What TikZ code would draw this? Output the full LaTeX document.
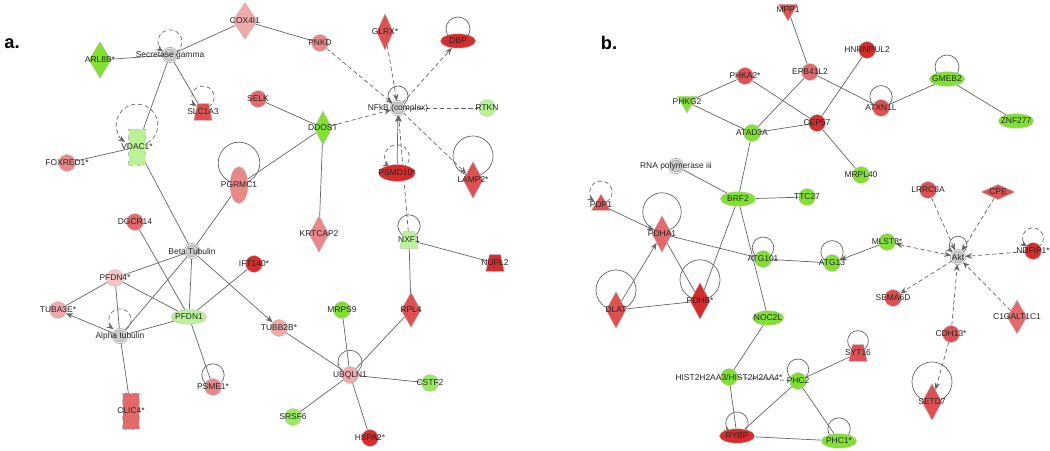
\documentclass[tikz,border=0pt]{standalone}
\usepackage{fontspec}
\setmainfont{Liberation Sans}
\usepackage{tikz}
\usetikzlibrary{shapes.geometric,arrows.meta,backgrounds}

\definecolor{upred}{RGB}{214,44,44}
\definecolor{midred}{RGB}{224,80,80}
\definecolor{pinkred}{RGB}{228,106,106}
\definecolor{pink}{RGB}{234,136,136}
\definecolor{lightpink}{RGB}{240,168,168}
\definecolor{palepink}{RGB}{246,198,198}
\definecolor{upgreen}{RGB}{128,226,44}
\definecolor{midgreen}{RGB}{150,236,90}
\definecolor{lightgreen}{RGB}{184,244,150}

\begin{document}
\begin{tikzpicture}[x=0.025cm, y=-0.025cm,
  every label/.style={font=\fontsize{6}{7}\selectfont, inner sep=0pt, text=black!85},
  gene/.style={draw=black!25, line width=0.3pt, inner sep=0pt},
  dot/.style={gene, circle, minimum size=0.42cm},
  oval/.style={gene, ellipse, minimum width=0.88cm, minimum height=0.36cm},
  kite/.style={gene, diamond, minimum width=0.5cm, minimum height=0.92cm},
  flatkite/.style={gene, diamond, minimum width=0.84cm, minimum height=0.38cm},
  box/.style={gene, rectangle, dashed, minimum width=0.42cm, minimum height=0.9cm},
  trap/.style={gene, trapezium, inner sep=1pt, trapezium stretches=true, trapezium left angle=72, trapezium right angle=72, minimum width=0.46cm, minimum height=0.42cm},
  tri/.style={gene, regular polygon, regular polygon sides=3, minimum size=0.55cm},
  vtri/.style={tri, shape border rotate=180},
  cplx/.style={circle, draw=black!40, fill=black!20, double=black!8, double distance=0.8pt, minimum size=0.34cm, inner sep=0pt},
  edge/.style={draw=black!60, line width=0.5pt},
  dedge/.style={edge, dash pattern=on 3pt off 2pt},
  >={Stealth[length=5pt,width=4pt]}]

 \useasboundingbox (0,0) rectangle (1050,451);

    % panel letters
    \node[font=\fontsize{13}{15}\selectfont\bfseries] (lbla) at (12,44) {a.};
    \node[font=\fontsize{13}{15}\selectfont\bfseries] (lblb) at (609,43) {b.};

    % panel a: molecules
    \node[cplx, label=center:Secretase gamma] (secg) at (170,55) {};
    \node[kite, fill=upgreen, minimum width=0.55cm, label=center:ARL8B*] (arl8b) at (100,60) {};
    \node[kite, fill=lightpink, minimum width=0.62cm, label=center:COX4I1] (cox4i1) at (245,21) {};
    \node[trap, fill=midred, label=center:SLC1A3] (slc1a3) at (203,112) {};
    \node[box, fill=lightgreen, label=center:VDAC1*] (vdac1) at (137,147) {};
    \node[dot, fill=pink, label=center:FOXRED1*] (foxred1) at (67,163) {};
    \node[oval, fill=pink, minimum width=0.45cm, minimum height=0.92cm, label=center:PGRMC1] (pgrmc1) at (239,185) {};
    \node[dot, fill=pinkred, label=center:SELK] (selk) at (258,99) {};
    \node[dot, fill=pinkred, label=center:DGCR14] (dgcr14) at (135,222) {};
    \node[dot, fill=pink, label=center:PNKD] (pnkd) at (320,43) {};
    \node[kite, fill=midred, minimum width=0.42cm, label=center:GLRX*] (glrx) at (385,32) {};
    \node[oval, fill=upred, label=center:DBP] (dbp) at (458,41) {};
    \node[cplx, label=center:NFkB (complex)] (nfkb) at (398,108) {};
    \node[dot, fill=lightgreen, label=center:RTKN] (rtkn) at (487,108) {};
    \node[kite, fill=upgreen, minimum width=0.45cm, minimum height=0.85cm, label=center:DDOST] (ddost) at (323,128) {};
    \node[oval, fill=upred, minimum width=0.92cm, minimum height=0.42cm, label=center:PSMD10*] (psmd10) at (397,173) {};
    \node[kite, fill=midred, label=center:LAMP2*] (lamp2) at (473,180) {};
    \node[kite, fill=pink, label=center:KRTCAP2] (krtcap2) at (319,234) {};
    \node[trap, fill=lightgreen, label=center:NXF1] (nxf1) at (409,240) {};
    \node[trap, fill=upred, label=center:NUPL2] (nupl2) at (495,263) {};
    \node[kite, fill=midred, minimum height=0.88cm, label=center:RPL4] (rpl4) at (411,310) {};
    \node[dot, fill=upgreen, label=center:MRPS9] (mrps9) at (342,310) {};
    \node[dot, fill=lightpink, label=center:TUBB2B*] (tubb2b) at (279,328) {};
    \node[dot, fill=lightpink, label=center:UBQLN1] (ubqln1) at (350,375) {};
    \node[dot, fill=midgreen, label=center:CSTF2] (cstf2) at (430,383) {};
    \node[dot, fill=midgreen, label=center:SRSF6] (srsf6) at (293,417) {};
    \node[dot, fill=upred, label=center:HSPA2*] (hspa2) at (370,438) {};
    \node[dot, fill=upred, label=center:IFT140*] (ift140) at (254,264) {};
    \node[cplx, label=center:Beta Tubulin] (btub) at (192,251) {};
    \node[dot, fill=palepink, label=center:PFDN4*] (pfdn4) at (115,278) {};
    \node[dot, fill=lightpink, label=center:TUBA3E*] (tuba3e) at (58,310) {};
    \node[oval, fill=lightgreen, label=center:PFDN1] (pfdn1) at (189,317) {};
    \node[cplx, label=center:Alpha tubulin] (atub) at (120,336) {};
    \node[dot, fill=pink, label=center:PSME1*] (psme1) at (213,387) {};
    \node[box, fill=pinkred, label=center:CLIC4*] (clic4) at (131,411) {};

    % panel b: molecules
    \node[vtri, fill=midred, label=center:MPP1] (mpp1) at (788,10) {};
    \node[dot, fill=midred, label=center:PHKA2*] (phka2) at (745,76) {};
    \node[dot, fill=pinkred, label=center:EPB41L2] (epb41l2) at (810,72) {};
    \node[dot, fill=upred, label=center:HNRNPUL2] (hnrnpul2) at (867,50) {};
    \node[oval, fill=upgreen, label=center:GMEB2] (gmeb2) at (947,79) {};
    \node[dot, fill=midred, label=center:ATXN1L] (atxn1l) at (881,108) {};
    \node[oval, fill=upgreen, label=center:ZNF277] (znf277) at (1016,121) {};
    \node[dot, fill=upred, label=center:CEP57] (cep57) at (817,123) {};
    \node[dot, fill=upgreen, label=center:MRPL40] (mrpl40) at (861,175) {};
    \node[vtri, fill=upgreen, label=center:PHKG2] (phkg2) at (687,102) {};
    \node[dot, fill=upgreen, label=center:ATAD3A] (atad3a) at (752,133) {};
    \node[cplx, label=center:RNA polymerase iii] (rnapol) at (676,166) {};
    \node[oval, fill=upgreen, label=center:BRF2] (brf2) at (738,199) {};
    \node[dot, fill=upgreen, label=center:TTC27] (ttc27) at (807,197) {};
    \node[tri, fill=midred, label=center:PDP1] (pdp1) at (601,205) {};
    \node[kite, fill=pinkred, label=center:PDHA1] (pdha1) at (662,234) {};
    \node[kite, fill=upred, label=center:PDHB*] (pdhb) at (700,301) {};
    \node[kite, fill=midred, label=center:DLAT] (dlat) at (616,310) {};
    \node[dot, fill=upgreen, label=center:ATG101] (atg101) at (763,259) {};
    \node[dot, fill=upgreen, label=center:ATG13] (atg13) at (832,263) {};
    \node[dot, fill=upgreen, label=center:MLST8*] (mlst8) at (887,242) {};
    \node[cplx, label=center:Akt] (akt) at (958,257) {};
    \node[dot, fill=upred, label=center:NDFIP1*] (ndfip1) at (1033,251) {};
    \node[dot, fill=midred, label=center:LRRC8A] (lrrc8a) at (928,190) {};
    \node[flatkite, fill=midred, label=center:CPE] (cpe) at (998,192) {};
    \node[dot, fill=midred, label=center:SEMA6D] (sema6d) at (893,298) {};
    \node[kite, fill=pinkred, minimum height=0.85cm, label=center:C1GALT1C1] (c1galt1c1) at (1017,317) {};
    \node[dot, fill=midred, label=center:CDH13*] (cdh13) at (951,334) {};
    \node[kite, fill=midred, label=center:SETD7] (setd7) at (932,402) {};
    \node[trap, fill=midred, label=center:SYT16] (syt16) at (858,353) {};
    \node[dot, fill=upgreen, label=center:PHC2] (phc2) at (798,381) {};
    \node[oval, fill=upgreen, label=center:PHC1*] (phc1) at (839,441) {};
    \node[oval, fill=upgreen, minimum width=0.78cm, label=center:NOC2L] (noc2l) at (768,318) {};
    \node[dot, fill=upgreen, label=center:HIST2H2AA3/HIST2H2AA4*] (hist) at (729,377) {};
    \node[oval, fill=upred, label=center:RYBP] (rybp) at (737,436) {};

  \begin{scope}[on background layer]
    % panel a: links
    \draw[edge] (arl8b) -- (secg);
    \draw[edge] (secg) -- (cox4i1);
    \draw[edge] (secg) -- (slc1a3);
    \draw[edge] (secg) -- (vdac1);
    \draw[edge] (foxred1) -- (vdac1);
    \draw[edge] (vdac1) -- (btub);
    \draw[edge] (cox4i1) -- (pnkd);
    \draw[dedge,->] (pnkd) -- (nfkb);
    \draw[dedge,->] (glrx) -- (nfkb);
    \draw[dedge,->] (nfkb) -- (dbp);
    \draw[dedge] (nfkb) -- (rtkn);
    \draw[dedge,->] (nfkb) -- (lamp2);
    \draw[dedge,->] (ddost) -- (nfkb);
    \draw[edge,->] (psmd10) -- (nfkb);
    \draw[dedge,->] (nxf1) -- (nfkb);
    \draw[edge] (selk) -- (ddost);
    \draw[edge] (pgrmc1) -- (ddost);
    \draw[edge] (ddost) -- (krtcap2);
    \draw[edge] (nxf1) -- (nupl2);
    \draw[edge] (nxf1) -- (rpl4);
    \draw[edge] (rpl4) -- (ubqln1);
    \draw[edge] (mrps9) -- (ubqln1);
    \draw[edge] (tubb2b) -- (ubqln1);
    \draw[edge] (ubqln1) -- (cstf2);
    \draw[edge] (ubqln1) -- (srsf6);
    \draw[edge] (ubqln1) -- (hspa2);
    \draw[edge,->] (btub) -- (tubb2b);
    \draw[edge] (btub) -- (pgrmc1);
    \draw[edge] (btub) -- (pfdn4);
    \draw[edge] (btub) -- (pfdn1);
    \draw[edge] (btub) -- (atub);
    \draw[edge] (dgcr14) -- (pfdn1);
    \draw[edge] (ift140) -- (pfdn1);
    \draw[edge] (pfdn1) -- (psme1);
    \draw[edge] (pfdn1) -- (atub);
    \draw[edge] (pfdn4) -- (pfdn1);
    \draw[edge] (pfdn4) -- (tuba3e);
    \draw[edge] (pfdn4) -- (atub);
    \draw[edge,->] (atub) -- (tuba3e);
    \draw[edge] (atub) -- (clic4);

    % panel a: self loops
    \draw[dedge,->] (secg.center) ++(0,0.33cm) ++(-60:0.3cm) arc[start angle=-60, end angle=235, radius=0.3cm];
    \draw[dedge,->] (slc1a3.center) ++(0,0.37cm) ++(-60:0.28cm) arc[start angle=-60, end angle=235, radius=0.28cm];
    \draw[dedge,->] (vdac1.center) ++(0,0.55cm) ++(-60:0.52cm) arc[start angle=-60, end angle=235, radius=0.52cm];
    \draw[dedge,->] (psmd10.center) ++(0,0.4cm) ++(-60:0.31cm) arc[start angle=-60, end angle=235, radius=0.31cm];
    \draw[dedge,->] (atub.center) ++(0,0.4cm) ++(-60:0.28cm) arc[start angle=-60, end angle=235, radius=0.28cm];
    \draw[edge] (pgrmc1.center) ++(0,0.55cm) circle (0.52cm);
    \draw[edge] (dbp.center) ++(0,0.3cm) circle (0.3cm);
    \draw[edge] (nfkb.center) ++(0,0.3cm) circle (0.25cm);
    \draw[edge] (lamp2.center) ++(0,0.6cm) circle (0.5cm);
    \draw[edge] (nxf1.center) ++(0,0.35cm) circle (0.28cm);
    \draw[edge] (ubqln1.center) ++(0,0.32cm) circle (0.3cm);
    \draw[edge] (psme1.center) ++(0,0.3cm) circle (0.28cm);

    % panel b: links
    \draw[edge] (mpp1) -- (epb41l2);
    \draw[edge] (phka2) -- (phkg2);
    \draw[edge] (phka2) -- (cep57);
    \draw[edge] (epb41l2) -- (atad3a);
    \draw[edge] (epb41l2) -- (atxn1l);
    \draw[edge] (hnrnpul2) -- (cep57);
    \draw[edge] (atxn1l) -- (gmeb2);
    \draw[edge] (gmeb2) -- (znf277);
    \draw[edge] (cep57) -- (atad3a);
    \draw[edge] (cep57) -- (mrpl40);
    \draw[edge] (phkg2) -- (atad3a);
    \draw[edge] (atad3a) -- (brf2);
    \draw[edge] (rnapol) -- (brf2);
    \draw[edge] (brf2) -- (ttc27);
    \draw[edge] (brf2) -- (pdhb);
    \draw[edge] (brf2) -- (noc2l);
    \draw[edge,->] (pdp1) -- (pdha1);
    \draw[edge] (pdha1) -- (atg101);
    \draw[edge] (pdha1) -- (pdhb);
    \draw[edge,->] (dlat) -- (pdha1);
    \draw[edge] (dlat) -- (pdhb);
    \draw[edge] (atg101) -- (atg13);
    \draw[edge,->] (mlst8) -- (atg13);
    \draw[dedge,<->] (mlst8) -- (akt);
    \draw[dedge,->] (lrrc8a) -- (akt);
    \draw[dedge,->] (cpe) -- (akt);
    \draw[dedge,->] (ndfip1) -- (akt);
    \draw[dedge,->] (akt) -- (sema6d);
    \draw[dedge,->] (c1galt1c1) -- (akt);
    \draw[dedge,->] (cdh13) -- (akt);
    \draw[dedge,->] (cdh13) -- (setd7);
    \draw[edge] (noc2l) -- (hist);
    \draw[dedge] (hist) -- (phc2);
    \draw[edge] (hist) -- (rybp);
    \draw[edge] (phc2) -- (rybp);
    \draw[edge] (phc2) -- (phc1);
    \draw[edge] (phc2) -- (syt16);
    \draw[edge] (rybp) -- (phc1);

    % panel b: self loops
    \draw[dedge,->] (pdp1.center) ++(0,0.32cm) ++(-60:0.28cm) arc[start angle=-60, end angle=235, radius=0.28cm];
    \draw[dedge,->] (ndfip1.center) ++(0,0.32cm) ++(-60:0.26cm) arc[start angle=-60, end angle=235, radius=0.26cm];
    \draw[edge,->] (akt.center) ++(0,0.3cm) ++(-60:0.22cm) arc[start angle=-60, end angle=235, radius=0.22cm];
    \draw[edge,->] (rybp.center) ++(0,0.32cm) ++(-60:0.28cm) arc[start angle=-60, end angle=235, radius=0.28cm];
    \draw[edge] (gmeb2.center) ++(0,0.3cm) circle (0.3cm);
    \draw[edge] (atxn1l.center) ++(0,0.28cm) circle (0.28cm);
    \draw[edge] (pdha1.center) ++(0,0.55cm) circle (0.48cm);
    \draw[edge] (pdhb.center) ++(0,0.53cm) circle (0.5cm);
    \draw[edge] (dlat.center) ++(0,0.5cm) circle (0.5cm);
    \draw[edge] (atg101.center) ++(0,0.28cm) circle (0.27cm);
    \draw[edge] (atg13.center) ++(0,0.28cm) circle (0.28cm);
    \draw[edge] (setd7.center) ++(0,0.5cm) circle (0.5cm);
    \draw[edge] (syt16.center) ++(0,0.3cm) circle (0.26cm);
    \draw[edge] (phc2.center) ++(0,0.28cm) circle (0.27cm);
    \draw[edge] (phc1.center) ++(0,0.3cm) circle (0.28cm);
  \end{scope}
\end{tikzpicture}
\end{document}
